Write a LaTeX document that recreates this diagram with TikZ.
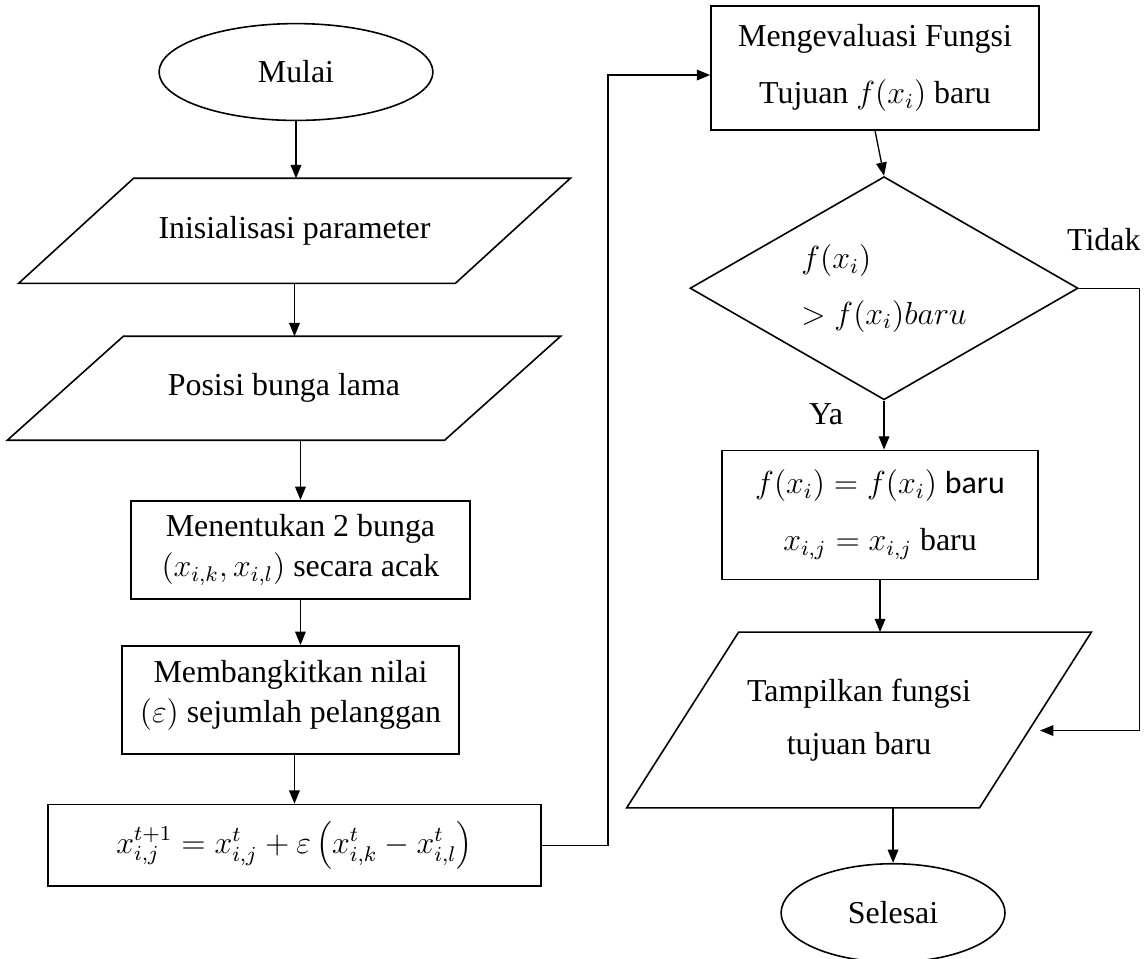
\documentclass[tikz,border=0pt,12pt]{standalone}
\usepackage{fontspec}
\setmainfont{Liberation Serif}
\newfontfamily\calibrifont{Carlito}
\usetikzlibrary{
  shapes.geometric,
  arrows.meta,
  positioning
}
\tikzset{
  startstop/.style={
    draw, ellipse, line width=0.6pt, inner sep=0pt,
    align=center, font=\normalsize
  },
  iobox/.style={
    rectangle, inner sep=0pt, align=center,
    font=\fontsize{12}{20}\selectfont
  },
  ioline/.style={
    draw=black, line width=0.6pt
  },
  procbox/.style={
    draw, rectangle, line width=0.6pt, inner sep=0pt,
    align=center, font=\fontsize{12}{15}\selectfont
  },
  widebox/.style={
    procbox, font=\fontsize{12}{21.5}\selectfont
  },
  decbox/.style={
    draw, diamond, shape aspect=1.74, line width=0.6pt,
    inner sep=0pt, align=left, font=\fontsize{12}{21}\selectfont
  },
  flowarrow/.style={
    -{Triangle[length=5pt,width=4pt]},
    draw=black, line width=0.5pt
  },
  flowlabel/.style={
    font=\normalsize, inner sep=0pt
  },
}

\begin{document}
\begin{tikzpicture}[node distance=0.6cm and 0.6cm]

  \useasboundingbox (0,0) rectangle (15.15,-12.665);

  %% left column
  \node[startstop, minimum width=3.62cm, minimum height=1.28cm]
    (start) at (3.913,-0.952) {Mulai};

  \node[iobox, minimum width=7.28cm, minimum height=1.375cm,
        below=0.754cm of start, xshift=-0.02cm] (init)
    {Inisialisasi parameter};
  \draw[ioline] (init.south west) -- ([xshift=-1.52cm]init.south east)
    -- (init.north east) -- ([xshift=1.52cm]init.north west) -- cycle;

  \node[iobox, minimum width=7.30cm, minimum height=1.36cm,
        below=0.70cm of init, xshift=-0.139cm] (oldpos)
    {Posisi bunga lama};
  \draw[ioline] (oldpos.south west) -- ([xshift=-1.533cm]oldpos.south east)
    -- (oldpos.north east) -- ([xshift=1.533cm]oldpos.north west) -- cycle;

  \node[procbox, minimum width=4.48cm, minimum height=1.30cm,
        below=0.79cm of oldpos, xshift=0.218cm] (pick)
    {Menentukan 2 bunga\\
     $\left(x_{i,k}, x_{i,l}\right)$ secara acak};

  \node[procbox, minimum width=4.455cm, minimum height=1.43cm,
        below=0.595cm of pick, xshift=-0.132cm] (eps)
    {Membangkitkan nilai\\
     $(\varepsilon)$ sejumlah pelanggan\\[-0.3cm]};

  \node[procbox, minimum width=6.52cm, minimum height=1.08cm,
        below=0.648cm of eps, xshift=0.053cm] (formula)
    {$x_{i,j}^{t+1} = x_{i,j}^{t}
      + \varepsilon\left(x_{i,k}^{t} - x_{i,l}^{t}\right)$};

  \draw[flowarrow] (start.south) -- (start.south |- init.north);
  \draw[flowarrow] (init.south) -- (init.south |- oldpos.north);
  \draw[flowarrow] (pick.north |- oldpos.south) -- (pick.north);
  \draw[flowarrow] (pick.south) -- (pick.south |- eps.north);
  \draw[flowarrow] (formula.north |- eps.south) -- (formula.north);

  %% right column
  \node[widebox, minimum width=4.34cm, minimum height=1.64cm]
    (eval) at (11.568,-0.899)
    {Mengevaluasi Fungsi\\Tujuan $f(x_i)$ baru};

  \node[decbox, minimum width=5.13cm, minimum height=2.95cm,
        below=0.595cm of eval, xshift=0.119cm] (dec)
    {$f(x_i)$\\$> f(x_i) baru$};

  \node[widebox, minimum width=4.18cm, minimum height=1.705cm,
        below=0.648cm of dec, xshift=-0.053cm] (update)
    {$f(x_i) = f(x_i)$ {\calibrifont baru}\\
     $x_{i,j} = x_{i,j}$ baru};

  \node[iobox, minimum width=6.13cm, minimum height=2.31cm,
        below=0.687cm of update, xshift=-0.278cm] (show)
    {Tampilkan fungsi\\tujuan baru};
  \draw[ioline] (show.south west) -- ([xshift=-1.48cm]show.south east)
    -- (show.north east) -- ([xshift=1.48cm]show.north west) -- cycle;

  \node[startstop, minimum width=2.96cm, minimum height=1.30cm,
        below=0.727cm of show, xshift=0.45cm] (stop) {Selesai};

  \draw[flowarrow] (eval.south) -- (dec.north);
  \draw[flowarrow] (dec.south) -- (dec.south |- update.north);
  \draw[flowarrow] (update.south) -- (update.south |- show.north);
  \draw[flowarrow] (stop.north |- show.south) -- (stop.north);

  %% loop back from the formula
  \coordinate (loopx) at ([xshift=0.873cm]formula.east);
  \coordinate (loopin) at ([yshift=-0.093cm]eval.west);
  \draw[flowarrow] (formula.east) -- (loopx) |- (loopin);

  %% branch Tidak
  \coordinate (nobend) at ([xshift=0.80cm]dec.east);
  \coordinate (showin) at ([shift={(2.393,-0.139)}]show.center);
  \draw[flowarrow] (dec.east) -- (nobend) |- (showin);

  \node[flowlabel] (no) at ([shift={(0.33,0.648)}]dec.east) {Tidak};
  \node[flowlabel] (yes) at ([shift={(-0.767,-0.185)}]dec.south) {Ya};

\end{tikzpicture}
\end{document}
